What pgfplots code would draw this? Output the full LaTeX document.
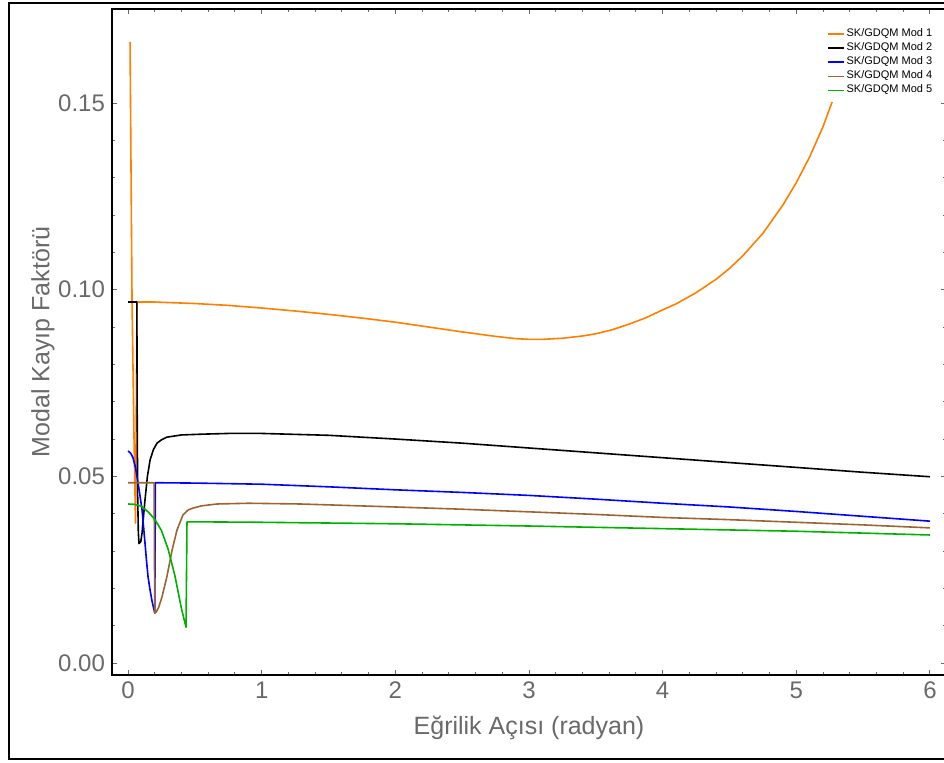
\documentclass[border=0pt]{standalone}
\usepackage{pgfplots}
\pgfplotsset{compat=1.18}
\usepackage{fontspec}
\setmainfont{Liberation Sans}

\definecolor{labgray}{RGB}{105,105,105}
\definecolor{mOrange}{RGB}{255,128,0}
\definecolor{mBlue}{RGB}{0,0,255}
\definecolor{mBrown}{RGB}{153,102,51}
\definecolor{mGreen}{RGB}{0,175,0}

\begin{document}
\begin{tikzpicture}
\begin{axis}[
  name=ax,
  scale only axis,
  width=417pt, height=333pt,
  xmin=-0.12, xmax=6.12,
  ymin=-0.00321, ymax=0.1752,
  xtick={0,1,2,3,4,5,6},
  ytick={0,0.05,0.1,0.15},
  minor x tick num=4,
  minor y tick num=4,
  tick align=inside,
  major tick length=2.5pt,
  minor tick length=1.5pt,
  every tick/.style={labgray, line width=0.5pt},
  axis line style={black, line width=1pt},
  /pgf/number format/assume math mode=true,
  yticklabel style={/pgf/number format/.cd, fixed, fixed zerofill, precision=2},
  tick label style={font=\fontsize{12}{14}\selectfont, text=labgray},
  xlabel={Eğrilik Açısı (radyan)},
  ylabel={Modal Kayıp Faktörü},
  every axis x label/.style={at={(axis description cs:0.5,-0.0796)}, anchor=center,
    font=\fontsize{12.5}{14}\selectfont, text=labgray},
  every axis y label/.style={at={(axis description cs:-0.0827,0.5)}, anchor=center, rotate=90,
    font=\fontsize{12.5}{14}\selectfont, text=labgray},
  legend style={at={(axis description cs:0.993,0.98)}, anchor=north east,
    draw=none, fill=white, font=\fontsize{5.5}{6.5}\selectfont,
    nodes={inner sep=0.8pt}, row sep=0pt},
  legend cell align=left,
  legend image code/.code={\draw[#1, line width=0.75pt] (0pt,0pt) -- (8pt,0pt);},
  every axis plot/.append style={line width=0.8pt, line join=round},
  clip=true,
]

% Mod 1
\addplot[mOrange] coordinates {
 (0.015,0.1664) (0.030,0.0967) (0.045,0.0600) (0.056,0.0375) (0.067,0.0967)
 (0.2,0.0967) (0.5,0.0963) (0.75,0.0958) (1.0,0.0951) (1.25,0.0943)
 (1.5,0.0934) (1.75,0.0924) (2.0,0.0913) (2.25,0.0900) (2.5,0.0887)
 (2.75,0.0875) (2.9,0.0869) (3.0,0.0867) (3.1,0.0867) (3.25,0.0870)
 (3.4,0.0876) (3.5,0.0882) (3.625,0.0893) (3.75,0.0908) (3.875,0.0925)
 (4.0,0.0946) (4.1,0.0962) (4.25,0.0992) (4.4,0.1028) (4.5,0.1057)
 (4.6,0.1091) (4.75,0.1151) (4.9,0.1227) (5.0,0.1287) (5.1,0.1356)
 (5.2,0.1437) (5.273,0.1508)
};
\addlegendentry{SK/GDQM Mod 1}

% Mod 2
\addplot[black] coordinates {
 (0,0.0967) (0.066,0.0967) (0.068,0.0700) (0.072,0.0450) (0.077,0.0350)
 (0.082,0.0320) (0.095,0.0325) (0.105,0.0348) (0.115,0.0390) (0.127,0.0437)
 (0.145,0.0500) (0.165,0.0544) (0.19,0.0572) (0.217,0.0589) (0.25,0.0598)
 (0.29,0.0605) (0.4,0.0611) (0.55,0.0613) (0.75,0.0615) (1.0,0.0615)
 (1.5,0.0610) (2.0,0.0600) (2.5,0.0589) (3.0,0.0576) (3.5,0.0563)
 (4.0,0.0550) (4.5,0.0537) (5.0,0.0524) (5.5,0.0511) (6.0,0.0499)
};
\addlegendentry{SK/GDQM Mod 2}

% Mod 3
\addplot[mBlue] coordinates {
 (0,0.0568) (0.02,0.0562) (0.037,0.0550) (0.055,0.0525) (0.075,0.0482)
 (0.09,0.0447) (0.105,0.0410) (0.115,0.0370) (0.127,0.0321) (0.138,0.0275)
 (0.15,0.0230) (0.165,0.0195) (0.18,0.0165) (0.2,0.0134) (0.205,0.0483)
 (0.5,0.0482) (1.0,0.0479) (1.5,0.0472) (2.0,0.0464) (2.5,0.0457)
 (3.0,0.0449) (3.5,0.0439) (4.0,0.0428) (4.5,0.0418) (5.0,0.0406)
 (5.5,0.0393) (6.0,0.0380)
};
\addlegendentry{SK/GDQM Mod 3}

% Mod 4
\addplot[mBrown] coordinates {
 (0,0.0483) (0.195,0.0483) (0.2,0.0134) (0.21,0.0136) (0.23,0.0150)
 (0.254,0.0177) (0.29,0.0230) (0.33,0.0303) (0.366,0.0356) (0.41,0.0396)
 (0.45,0.0410) (0.486,0.0415) (0.55,0.0421) (0.666,0.0426) (0.9,0.0428)
 (1.29,0.0426) (2.0,0.0418) (2.5,0.0412) (3.0,0.0405) (3.5,0.0398)
 (4.0,0.0390) (4.5,0.0384) (5.0,0.0377) (5.5,0.0370) (6.0,0.0362)
};
\addlegendentry{SK/GDQM Mod 4}

% Mod 5
\addplot[mGreen] coordinates {
 (0,0.0426) (0.05,0.0425) (0.1,0.0420) (0.15,0.0405) (0.2,0.0385)
 (0.25,0.0355) (0.3,0.0305) (0.35,0.0235) (0.4,0.0145) (0.434,0.0096)
 (0.441,0.0378) (0.6,0.0378) (1.0,0.0377) (2.0,0.0373) (3.0,0.0367)
 (4.0,0.0360) (5.0,0.0353) (6.0,0.0343)
};
\addlegendentry{SK/GDQM Mod 5}

\end{axis}
% outer frame of the figure
\draw[black, line width=1pt]
  ([shift={(420pt,-42pt)}]ax.south west) -- ([shift={(-51.5pt,-42pt)}]ax.south west)
  -- ([shift={(-51.5pt,336pt)}]ax.south west) -- ([shift={(420pt,336pt)}]ax.south west);
\pgfresetboundingbox
\path[use as bounding box] ([shift={(-56pt,-43.5pt)}]ax.south west) rectangle ([shift={(416pt,337.5pt)}]ax.south west);
\end{tikzpicture}
\end{document}
